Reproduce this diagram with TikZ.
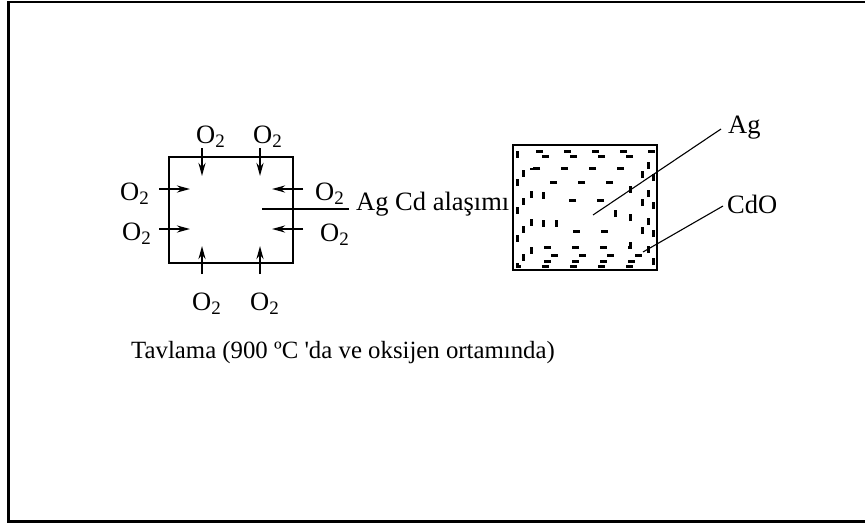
\documentclass[tikz,border=0pt]{standalone}
\usepackage{fontspec}
\setmainfont{Liberation Serif}[Ligatures=TeXOff]
\usetikzlibrary{arrows.meta}
\newcommand{\oxy}{O\raisebox{-0.35ex}{\fontsize{19}{19}\selectfont 2}}
\begin{document}
\begin{tikzpicture}[x=1pt,y=-1pt,
  lab/.style={inner sep=0pt, anchor=base west, font=\fontsize{26.5}{30}\selectfont},
  oarrow/.style={line width=2.2pt, -{Stealth[length=13pt,width=7pt]}},
  leader/.style={line width=1.1pt},
  dots/.style={line width=3pt, dash pattern=on 7pt off 21pt}]
\useasboundingbox (0,0) rectangle (865,525);
% frame
\draw[line width=3pt] (8.5,1) -- (8.5,521);
\draw[line width=2pt] (7,1.5) -- (865,1.5);
\draw[line width=3pt] (7,521) -- (865,521);
% left square
\node[draw, line width=1.2pt, minimum width=124pt, minimum height=106pt, inner sep=0pt] (sq) at (231,210) {};
% O2 labels
\node[lab] (t1) at (196,143) {\oxy};
\node[lab] (t2) at (253,143) {\oxy};
\node[lab] (l1) at (120,200) {\oxy};
\node[lab] (l2) at (122,240) {\oxy};
\node[lab] (r1) at (315,200) {\oxy};
\node[lab] (r2) at (320,241) {\oxy};
\node[lab] (b1) at (192,310) {\oxy};
\node[lab] (b2) at (250,310) {\oxy};
% arrow coordinates
\coordinate (at1s) at (202,148); \coordinate (at1e) at (202,176);
\coordinate (at2s) at (260,148); \coordinate (at2e) at (260,176);
\coordinate (ab1s) at (202,274); \coordinate (ab1e) at (202,246);
\coordinate (ab2s) at (260,274); \coordinate (ab2e) at (260,246);
\coordinate (al1s) at (159,189); \coordinate (al1e) at (190,189);
\coordinate (al2s) at (159,229); \coordinate (al2e) at (190,229);
\coordinate (ar1s) at (303,189); \coordinate (ar1e) at (272,189);
\coordinate (ar2s) at (303,229); \coordinate (ar2e) at (272,229);
\foreach \a in {at1,at2,ab1,ab2,al1,al2,ar1,ar2}
  \draw[oarrow] (\a s) -- (\a e);
% alloy label
\node[lab] (alloy) at (356,210) {Ag Cd ala\c{s}\i m\i};
\coordinate (alin) at (262,209);
\draw[leader] (alin) -- (349,209);
% right square
\node[draw, line width=1.2pt, minimum width=144pt, minimum height=125pt, inner sep=0pt] (sq2) at (585,207.5) {};
\draw[dots] (517,151) rectangle (653,266);
\draw[dots, dash phase=14pt] (523,156) rectangle (648,261);
\draw[dots, dash phase=5pt] (531,168) rectangle (642,255);
\draw[dots, dash phase=18pt] (543,182) rectangle (630,247);
\draw[dots, dash phase=8pt] (556,200) rectangle (615,231);
% Ag / CdO labels
\node[lab] (ag) at (728,133) {Ag};
\node[lab] (cdo) at (727,213) {CdO};
\coordinate (agin) at (593,215);
\coordinate (cdoin) at (643,252);
\draw[leader] (agin) -- (721,129);
\draw[leader] (cdoin) -- (723,206);
% caption
\node[inner sep=0pt, anchor=base west, font=\fontsize{24.8}{28}\selectfont] (cap) at (131,358) {Tavlama (900 ºC 'da ve oksijen ortam\i nda)};
\end{tikzpicture}
\end{document}
